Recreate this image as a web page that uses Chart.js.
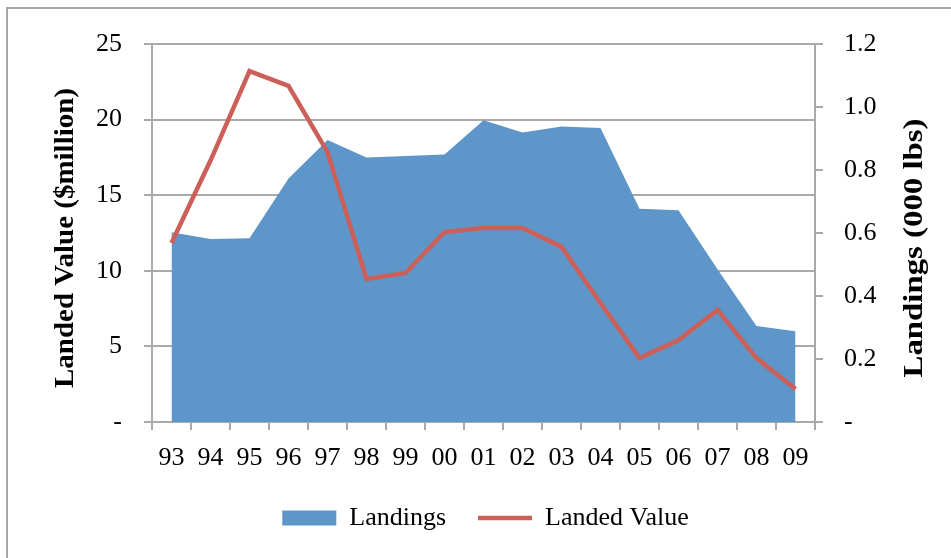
<!DOCTYPE html>
<html><head><meta charset="utf-8">
<script src="https://cdn.jsdelivr.net/npm/chart.js@4/dist/chart.umd.min.js"></script>
<style>html,body{margin:0;padding:0;background:#fff;}#wrap{width:951px;height:558px;position:relative;}</style>
</head><body><div id="wrap"><canvas id="c" width="951" height="558"></canvas></div>
<script>
const categories = ['93','94','95','96','97','98','99','00','01','02','03','04','05','06','07','08','09'];
const landings = [12.55,12.1,12.15,16.1,18.65,17.5,17.6,17.7,19.95,19.15,19.55,19.45,14.1,14.0,10.1,6.35,6.0];
const landedValue = [0.568,0.83,1.114,1.067,0.857,0.454,0.473,0.603,0.616,0.616,0.556,0.378,0.203,0.26,0.356,0.203,0.105];
const leftTicks = [0,5,10,15,20,25];
const rightTicks = [0,0.2,0.4,0.6,0.8,1.0,1.2];
const leftTitle = 'Landed Value ($million)';
const rightTitle = 'Landings (000 lbs)';

const GRID = '#a9a9a9';
const FONT = "'Liberation Serif', 'Times New Roman', serif";

const decor = {
  id: 'decor',
  beforeDraw(chart) {
    const ctx = chart.ctx;
    ctx.save();
    ctx.strokeStyle = '#a6a6a6';
    ctx.lineWidth = 2;
    ctx.strokeRect(7, 8, 1200, 1200);
    ctx.restore();
  },
  afterDraw(chart) {
    const ctx = chart.ctx;
    const drawTitle = (text, cx, cy, len) => {
      ctx.save();
      ctx.font = "bold 27px " + FONT;
      ctx.fillStyle = '#000';
      ctx.textAlign = 'center';
      ctx.textBaseline = 'middle';
      const w = ctx.measureText(text).width;
      ctx.translate(cx, cy);
      ctx.rotate(-Math.PI / 2);
      ctx.scale(len / w, 1);
      ctx.fillText(text, 0, 0);
      ctx.restore();
    };
    drawTitle(leftTitle, 66, 238, 300);
    drawTitle(rightTitle, 915, 248, 259);
  }
};

new Chart(document.getElementById('c'), {
  type: 'line',
  data: {
    labels: categories,
    datasets: [
      {
        label: 'Landings',
        data: landings,
        yAxisID: 'y',
        fill: 'origin',
        backgroundColor: '#5f96c9',
        borderColor: '#5f96c9',
        borderWidth: 0,
        pointRadius: 0,
        tension: 0,
        order: 2,
        pointStyle: 'rect'
      },
      {
        label: 'Landed Value',
        data: landedValue,
        yAxisID: 'y1',
        fill: false,
        borderColor: '#cd5f59',
        backgroundColor: '#cd5f59',
        borderWidth: 4.5,
        pointRadius: 0,
        tension: 0,
        order: 1,
        pointStyle: 'line'
      }
    ]
  },
  options: {
    responsive: false,
    animation: false,
    layout: { padding: { top: 44, bottom: 17, left: 20, right: 0 } },
    plugins: {
      tooltip: { enabled: false },
      legend: {
        position: 'bottom',
        labels: {
          usePointStyle: true,
          pointStyleWidth: 54,
          boxHeight: 15,
          padding: 32,
          color: '#000',
          font: { family: FONT, size: 26 },
          sort: (a, b) => a.datasetIndex - b.datasetIndex
        }
      }
    },
    scales: {
      x: {
        type: 'category',
        offset: true,
        grid: { offset: true, drawOnChartArea: false, drawTicks: true, tickLength: 8, color: GRID, lineWidth: 2 },
        border: { display: true, color: GRID, width: 2 },
        ticks: { color: '#000', font: { family: FONT, size: 26 }, padding: 13, maxRotation: 0, autoSkip: false },
        afterFit(s) { s.height = 51; }
      },
      y: {
        position: 'left',
        min: 0, max: 25,
        afterBuildTicks(s) { s.ticks = leftTicks.map(v => ({ value: v })); },
        grid: { color: GRID, lineWidth: 2, tickLength: 8 },
        border: { display: true, color: GRID, width: 2 },
        ticks: {
          color: '#000', font: { family: FONT, size: 26 }, padding: 22,
          callback: v => v === 0 ? '-' : String(v)
        },
        title: { display: false },
        afterFit(s) { s.width = 132; }
      },
      y1: {
        position: 'right',
        min: 0, max: 1.2,
        afterBuildTicks(s) { s.ticks = rightTicks.map(v => ({ value: v })); },
        grid: { drawOnChartArea: false, color: GRID, lineWidth: 2, tickLength: 8 },
        border: { display: true, color: GRID, width: 2 },
        ticks: {
          color: '#000', font: { family: FONT, size: 26 }, padding: 21,
          callback: v => v === 0 ? '-' : Number(v).toFixed(1)
        },
        title: { display: false },
        afterFit(s) { s.width = 136; }
      }
    }
  },
  plugins: [decor]
});
</script>
</body></html>
